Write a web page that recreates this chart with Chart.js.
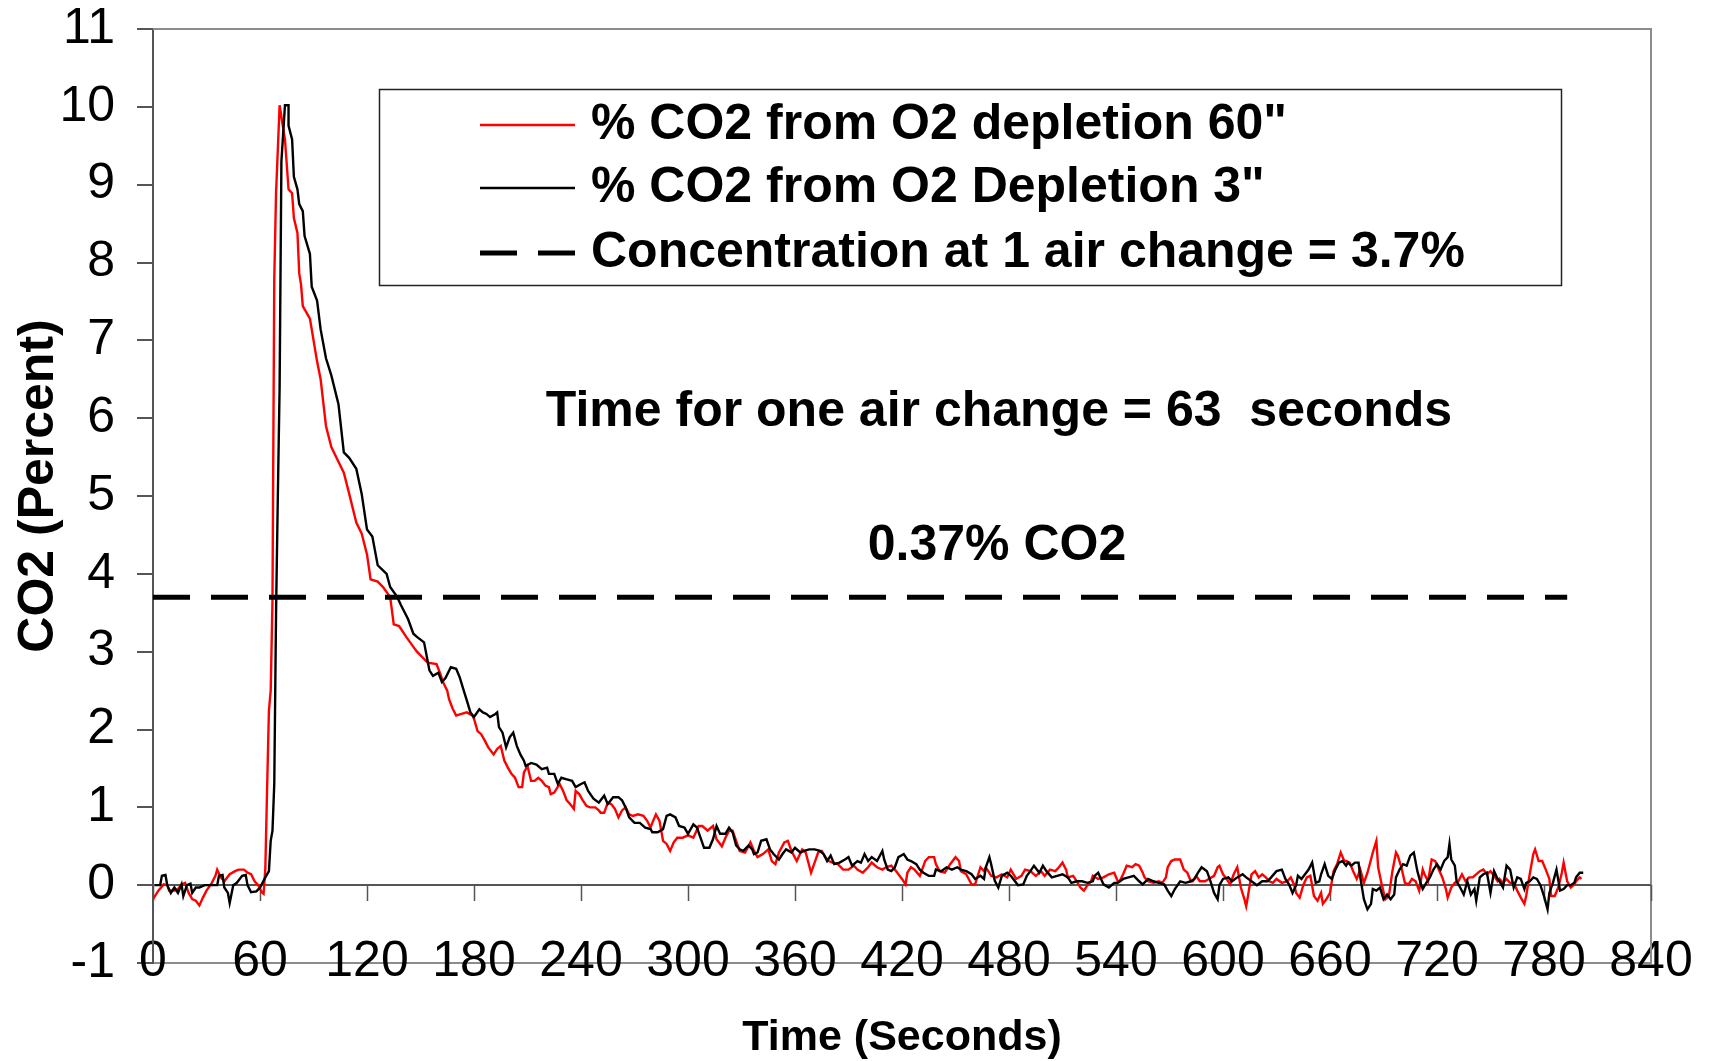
<!DOCTYPE html>
<html><head><meta charset="utf-8">
<script src="https://cdn.jsdelivr.net/npm/chart.js@4.4.1/dist/chart.umd.min.js"></script>
<style>html,body{margin:0;padding:0;background:#fff;}canvas{display:block;}</style>
</head><body>
<canvas id="c" width="1712" height="1061"></canvas>
<script>
// ---------- DATA ----------
const seriesNames = ['% CO2 from O2 depletion 60"', '% CO2 from O2 Depletion 3"', 'Concentration at 1 air change = 3.7%'];

const time60 = [
 0,3,6,8,9,12,14,16,18,20,22,24,26,28,30,33,35,36,38,40,43,46,48,51,53,55,57,59,61,62,63,64,65,66,67,68,69,71,
 74,76,78,79,81,82,83,84,88,92,94,97,100,104,107,110,114,117,120,122,126,129,133,135,138,142,147,148,154,159,
 161,163,165,166,168,170,173,176,179,180,182,184,186,188,191,193,195,197,199,201,203,205,207,208,210,212,214,216,218,220,
 222,223,225,228,230,232,234,236,237,239,241,243,245,248,250,251,253,255,257,259,261,263,265,267,269,272,275,277,279,280,
 282,284,286,288,290,292,294,297,300,303,306,308,311,314,316,319,321,
 323,325,327,329,332,335,337,339,342,345,347,349,351,354,356,358,361,364,366,369,371,373,375,377,379,381,384,387,390,393,
 395,398,401,403,406,409,411,414,416,418,420,422,423,425,427,430,433,435,438,439,441,444,447,450,452,453,456,459,461,464,
 466,467,470,473,476,479,
 481,484,487,489,492,495,498,500,503,506,508,510,512,513,516,518,520,522,524,526,527,530,533,536,539,541,542,544,546,549,
 551,553,555,556,558,561,564,566,568,569,571,573,576,578,580,582,583,585,587,590,592,595,597,598,600,602,604,606,608,610,
 612,613,614,616,618,620,622,624,626,628,630,633,636,638,640,641,643,645,
 647,649,651,653,655,656,658,660,662,664,666,668,669,671,673,675,677,679,681,683,684,686,687,689,691,693,695,697,698,700,
 702,704,706,708,710,712,713,715,717,719,721,723,725,726,728,730,732,734,736,738,740,741,744,746,748,750,752,754,755,757,
 759,761,763,765,767,769,770,772,774,775,777,779,781,783,784,786,788,790,791,793,795,797,798,800,801
];
const co2_60 = [
 -0.18,-0.07,0.01,0,-0.07,-0.07,-0.05,0.01,0.03,-0.1,-0.18,-0.2,-0.26,-0.16,-0.07,0.03,0.12,0.2,0.1,0.05,0.14,0.18,0.2,0.2,0.16,0.14,0.05,0,-0.09,-0.11,0.22,1.26,2.24,2.5,3.66,7.79,8.89,10.02,
 9.58,8.94,8.89,8.57,8.38,7.86,7.72,7.44,7.28,6.73,6.5,5.9,5.63,5.44,5.3,5.03,4.66,4.52,4.25,3.93,3.9,3.83,3.7,3.35,3.33,3.19,3.03,3.0,2.86,2.84,
 2.72,2.59,2.5,2.39,2.27,2.18,2.2,2.22,2.18,2.14,1.98,1.94,1.86,1.77,1.68,1.75,1.79,1.6,1.51,1.43,1.38,1.26,1.26,1.45,1.53,1.34,1.34,1.38,1.34,1.28,
 1.26,1.17,1.19,1.3,1.21,1.09,1.04,0.98,1.21,1.17,1.09,1.02,1.0,1.0,0.96,0.93,0.93,1.06,1.04,0.98,0.87,0.96,1.0,0.91,0.89,0.91,0.89,0.83,0.74,0.8,
 0.91,0.83,0.57,0.53,0.44,0.55,0.61,0.61,0.64,0.61,0.76,0.76,0.7,0.76,0.59,0.5,0.61,
 0.7,0.7,0.57,0.44,0.42,0.55,0.44,0.36,0.4,0.46,0.31,0.27,0.42,0.55,0.57,0.44,0.31,0.46,0.42,0.16,0.29,0.42,0.44,0.36,0.31,0.29,0.27,0.2,0.2,0.25,
 0.2,0.16,0.23,0.29,0.23,0.2,0.23,0.25,0.2,0.14,0.08,0.01,0.16,0.23,0.2,0.12,0.31,0.36,0.36,0.27,0.18,0.16,0.27,0.36,0.31,0.18,0.14,0.01,0.01,0.23,
 0.18,0.23,0.12,0.1,0.14,0.1,
 0.2,0.08,0.12,0.2,0.18,0.12,0.18,0.12,0.2,0.18,0.23,0.29,0.2,0.1,0.12,0.05,-0.03,-0.07,0,0.05,0.12,0.08,0.1,0.14,0.16,0.05,0.05,0.14,0.25,0.23,
 0.27,0.25,0.16,0.1,0.05,0.03,0.05,0.03,0.1,0.23,0.31,0.33,0.33,0.2,0.16,0.05,0.05,0.12,0.05,0.05,0.08,0.12,0.23,0.25,0.14,0.08,0.01,0.14,0.23,-0.03,
 -0.18,-0.27,-0.14,0.14,0.18,0.1,0.14,0.1,0.05,0.03,0.08,0.03,0.05,0.1,0,-0.1,-0.16,0,
 0.1,0.12,-0.14,-0.2,-0.1,-0.24,-0.18,-0.1,0.18,0.27,0.42,0.31,0.31,0.29,0.18,0.08,0.2,0.03,0.16,0.33,0.42,0.57,0.23,0.01,-0.18,-0.14,0.18,0.42,0.38,0.23,
 0.03,0.01,0.08,0.05,-0.07,0.2,0.14,0.05,0.33,0.31,0.2,0.1,-0.05,-0.16,-0.03,0.03,0.05,0.14,0.05,0.1,0.1,0.12,0.18,0.2,0.14,0.18,0.12,0.05,0.08,0.03,
 0.08,0.03,0.03,-0.07,-0.16,-0.24,-0.14,0.14,0.4,0.46,0.31,0.31,0.2,0.08,-0.14,-0.14,-0.03,0.16,0.29,0.05,-0.03,0.01,0.05,0.1,0.08
];

const time3 = [
 1,4,5,7,8,10,12,14,16,17,19,21,22,24,26,29,32,36,37,39,40,42,43,45,47,50,52,53,55,58,60,63,65,66,67,68,69,70,71,72,74,76,
 76,78,79,81,82,84,85,88,89,92,94,97,100,104,107,110,114,117,120,123,126,131,133,137,139,143,146,148,152,155,
 157,160,162,164,167,170,172,174,176,178,180,183,185,187,189,192,193,194,196,198,200,202,204,206,208,209,212,215,218,221,
 222,225,227,229,232,235,237,240,242,244,247,250,251,253,255,258,261,263,265,267,270,273,276,279,280,283,286,288,290,293,
 295,298,300,303,305,307,309,312,314,316,318,
 321,323,325,327,329,331,334,336,337,339,341,344,346,348,351,353,355,358,360,363,365,368,371,374,376,378,380,382,385,388,
 390,392,394,395,397,399,401,403,406,409,410,412,414,416,418,421,423,425,428,430,432,435,438,439,442,445,448,451,453,456,
 459,461,464,466,467,469,470,472,474,476,479,
 481,484,485,488,490,492,494,497,499,501,504,507,510,513,515,518,521,524,527,528,530,533,536,539,541,544,547,550,553,555,
 558,561,564,567,569,571,573,576,579,582,584,586,588,591,593,595,597,598,600,603,605,608,611,613,616,619,622,625,627,630,
 633,635,637,639,641,642,
 644,646,648,650,652,654,655,657,659,661,663,665,667,669,670,672,674,676,677,679,681,683,684,686,688,690,692,694,696,697,
 699,701,703,705,707,709,711,712,714,716,718,720,722,724,726,727,728,730,731,733,735,737,739,741,742,744,746,748,750,752,
 754,755,757,759,761,763,765,767,769,770,772,774,776,778,780,782,783,785,787,789,791,793,795,797,798,800,802
];
const co2_3 = [
 0,0,0.12,0.13,0,-0.1,-0.03,-0.1,0.01,-0.14,0,0.02,-0.1,-0.03,-0.03,0,0,0,0.12,0.13,-0.03,-0.1,-0.23,0,0.03,0.12,0.13,0,-0.09,-0.08,-0.03,0.1,0.18,0.57,0.7,1.3,3.5,5.0,6.4,9.3,10.02,10.02,
 9.76,9.58,9.1,8.94,8.75,8.66,8.34,8.11,7.69,7.51,7.14,6.77,6.55,6.18,5.56,5.49,5.35,5.03,4.57,4.48,4.11,4.0,3.83,3.7,3.6,3.42,3.23,3.19,3.12,2.76,
 2.69,2.73,2.61,2.66,2.8,2.78,2.67,2.52,2.37,2.22,2.16,2.26,2.22,2.2,2.16,2.2,2.22,2.03,1.96,1.77,1.9,1.96,1.79,1.68,1.6,1.53,1.57,1.55,1.49,1.51,
 1.43,1.43,1.3,1.38,1.36,1.34,1.26,1.3,1.32,1.21,1.11,1.06,1.09,1.15,1.04,1.13,1.13,1.09,1.0,0.87,0.8,0.8,0.74,0.72,0.68,0.68,0.72,0.89,0.91,0.87,
 0.76,0.74,0.66,0.78,0.74,0.61,0.48,0.48,0.59,0.76,0.66,
 0.66,0.74,0.68,0.51,0.46,0.44,0.51,0.46,0.4,0.42,0.57,0.59,0.46,0.4,0.33,0.4,0.46,0.42,0.48,0.42,0.44,0.46,0.46,0.44,0.4,0.31,0.38,0.27,0.29,0.33,
 0.36,0.25,0.29,0.31,0.29,0.4,0.31,0.36,0.31,0.44,0.33,0.2,0.18,0.23,0.36,0.4,0.33,0.31,0.27,0.2,0.16,0.12,0.12,0.2,0.18,0.23,0.2,0.23,0.2,0.18,
 0.14,0.08,0.12,0.08,0.23,0.36,0.27,0.06,-0.03,0.12,0.16,
 0.12,0.03,0,0.01,0.12,0.18,0.25,0.16,0.25,0.18,0.1,0.12,0.14,0.1,0.03,0.05,0.05,0.03,0.05,0.12,0.16,0.01,-0.03,0.03,0.03,0.08,0.1,0.12,0.05,0.01,
 0.08,0.05,0.03,0.01,-0.07,-0.14,-0.05,0.05,0.03,0.05,0.08,0.16,0.23,0.18,0.05,-0.1,-0.18,0,0.08,0.1,0.05,0.1,0.14,0.1,0.05,0,0.05,0.05,0.1,0.18,
 0.2,0.08,0.01,-0.1,0,0.12,
 0.08,0.14,0.2,0.29,0.03,0.05,0.14,0.27,0.12,0.08,0.2,0.29,0.31,0.25,0.29,0.25,0.29,0.29,0.1,-0.18,-0.31,-0.24,-0.05,-0.07,-0.03,-0.18,-0.12,-0.18,-0.12,0.1,
 0.2,0.27,0.25,0.38,0.42,0.18,0.01,-0.05,0.03,0.1,0.2,0.27,0.2,0.31,0.36,0.53,0.33,0.25,0.05,-0.03,-0.12,0.05,-0.12,-0.05,-0.2,0.1,0.14,0.16,-0.1,0.18,
 0.08,0.05,-0.03,0.25,0.2,-0.03,0.1,0.08,-0.05,0.03,0.05,0.1,0.08,0,-0.14,-0.31,-0.1,0.03,0.2,-0.07,-0.05,0,0,0.03,0.1,0.16,0.16
];

const airChangeTime = [0, 793];
const airChangeCO2 = [3.7, 3.7];

const xTickValues = [0,60,120,180,240,300,360,420,480,540,600,660,720,780,840];
const yTickValues = [-1,0,1,2,3,4,5,6,7,8,9,10,11];

const xTitle = 'Time (Seconds)';
const yTitle = 'CO2 (Percent)';
const noteMain = 'Time for one air change = 63  seconds';
const noteSub = '0.37% CO2';

// ---------- CHART ----------
const FONT = "'Liberation Sans', Arial, Helvetica, sans-serif";
const pts = (ts, vs) => ts.map((t, i) => ({x: t, y: vs[i]}));

const extras = {
  id: 'extras',
  beforeDatasetsDraw(chart) {
    const {ctx, chartArea: a, scales: {x, y}} = chart;
    ctx.save();
    ctx.lineWidth = 2;
    ctx.strokeStyle = '#8c8c8c';
    ctx.beginPath(); ctx.moveTo(a.left, a.top); ctx.lineTo(a.right, a.top); ctx.lineTo(a.right, a.bottom); ctx.stroke();
    const y0 = Math.round(y.getPixelForValue(0));
    ctx.strokeStyle = '#555';
    ctx.beginPath(); ctx.moveTo(a.left, y0); ctx.lineTo(a.right, y0); ctx.stroke();
    ctx.lineWidth = 1.5;
    xTickValues.forEach(v => {
      const px = Math.round(x.getPixelForValue(v)) + 0.5;
      ctx.beginPath(); ctx.moveTo(px, y0); ctx.lineTo(px, y0 + 16); ctx.stroke();
    });
    ctx.restore();
  },
  afterDraw(chart) {
    const ctx = chart.ctx;
    ctx.save();
    // legend
    ctx.strokeStyle = '#222'; ctx.lineWidth = 1.5;
    ctx.strokeRect(379.5, 89.5, 1182, 196);
    const rows = [125, 188, 253];
    chart.data.datasets.forEach((ds, i) => {
      const ly = rows[i];
      ctx.strokeStyle = ds.borderColor; ctx.lineWidth = ds.borderWidth;
      ctx.setLineDash(ds.borderDash || []);
      ctx.beginPath(); ctx.moveTo(480, ly); ctx.lineTo(575, ly); ctx.stroke();
      ctx.setLineDash([]);
      ctx.fillStyle = '#000'; ctx.font = `bold 50px ${FONT}`;
      ctx.textAlign = 'left'; ctx.textBaseline = 'alphabetic';
      ctx.fillText(ds.label, 591, ly + 14);
    });
    // notes
    ctx.textAlign = 'center';
    ctx.font = `bold 50px ${FONT}`;
    ctx.fillText(noteMain, 999, 426);
    ctx.fillText(noteSub, 997, 560);
    // axis titles
    ctx.font = `bold 43px ${FONT}`;
    ctx.fillText(xTitle, 902, 1050);
    ctx.translate(53, 486); ctx.rotate(-Math.PI / 2);
    ctx.font = `bold 50px ${FONT}`;
    ctx.fillText(yTitle, 0, 0);
    ctx.restore();
  }
};

new Chart(document.getElementById('c'), {
  type: 'line',
  data: {
    datasets: [
      {label: seriesNames[0], data: pts(time60, co2_60), borderColor: '#ff0000', borderWidth: 2.4, pointRadius: 0, order: 2},
      {label: seriesNames[1], data: pts(time3, co2_3), borderColor: '#000000', borderWidth: 2.4, pointRadius: 0, order: 1},
      {label: seriesNames[2], data: pts(airChangeTime, airChangeCO2), borderColor: '#000000', borderWidth: 5, borderDash: [37, 21], pointRadius: 0, order: 0}
    ]
  },
  options: {
    responsive: false, animation: false, devicePixelRatio: 1,
    layout: {padding: {top: 29, right: 61, left: 0, bottom: 0}},
    plugins: {legend: {display: false}, tooltip: {enabled: false}},
    elements: {line: {tension: 0}},
    scales: {
      x: {
        type: 'linear', min: 0, max: 840,
        afterBuildTicks: s => { s.ticks = xTickValues.map(v => ({value: v})); },
        afterFit: s => { s.height = 98; s._computeLabelArea = () => undefined; },
        ticks: {font: {family: FONT, size: 50}, color: '#000', padding: -31, maxRotation: 0, autoSkip: false},
        grid: {drawOnChartArea: false, drawTicks: false},
        border: {color: '#8c8c8c', width: 2}
      },
      y: {
        type: 'linear', min: -1, max: 11,
        afterBuildTicks: s => { s.ticks = yTickValues.map(v => ({value: v})); },
        afterFit: s => { s.width = 153; s.paddingTop = 0; s.paddingBottom = 0; },
        ticks: {font: {family: FONT, size: 50}, color: '#000', padding: 22},
        grid: {drawOnChartArea: false, drawTicks: true, tickLength: 16, color: '#555', lineWidth: 2},
        border: {color: '#555', width: 2}
      }
    }
  },
  plugins: [extras]
});
</script>
</body></html>
